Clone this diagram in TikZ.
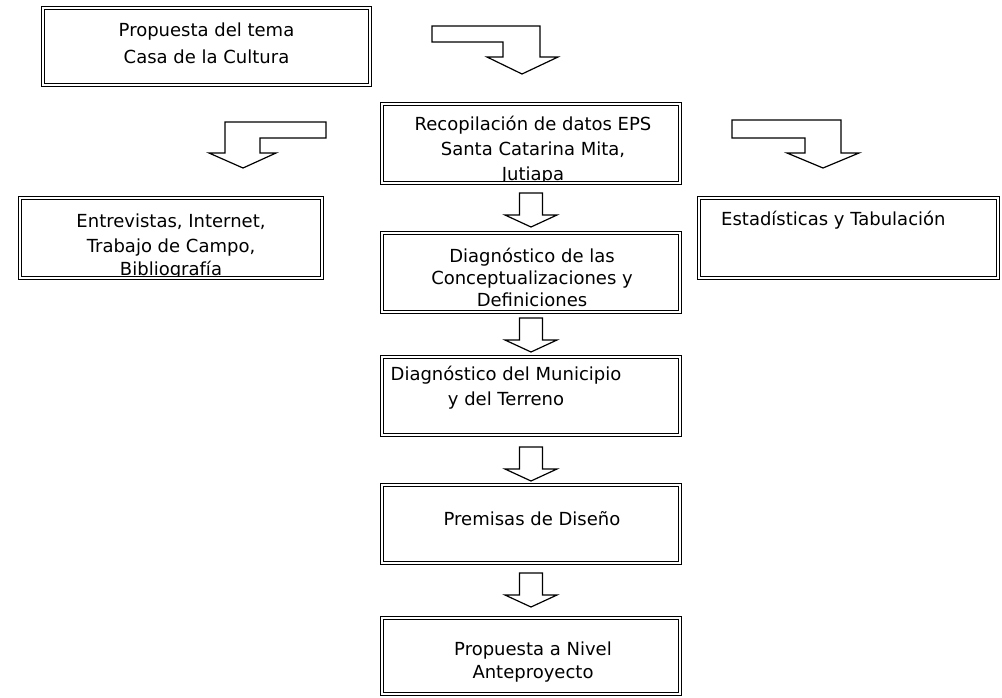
\documentclass[tikz,border=0pt]{standalone}
\usepackage{fontspec}
\setmainfont{DejaVu Sans}
\tikzset{
  box/.style={draw, double, double distance=1.5pt, line width=1.1pt},
  lbl/.style={font=\fontsize{18}{22}\selectfont, inner sep=0pt, anchor=base},
  barrow/.style={draw, line width=1.2pt, fill=white, line join=miter},
}
\newcommand\downarr[2]{%
  \draw[barrow] ({#1-11.5},{#2}) -- ({#1+11.5},{#2}) -- ({#1+11.5},{#2+22}) -- ({#1+26},{#2+22})
   -- ({#1},{#2+34}) -- ({#1-26},{#2+22}) -- ({#1-11.5},{#2+22}) -- cycle;}
\begin{document}
\begin{tikzpicture}[x=1pt, y=-1pt]
\useasboundingbox (0,0) rectangle (1002,697);
% texts
\node[lbl] (t1a) at (206.5,36) {Propuesta del tema};
\node[lbl] (t1b) at (206.5,63) {Casa de la Cultura};
\node[lbl] (t2a) at (533,130) {Recopilación de datos EPS};
\node[lbl] (t2b) at (533,155) {Santa Catarina Mita,};
\node[lbl] (t2c) at (533,180) {Jutiapa};
\node[lbl] (tla) at (171,227) {Entrevistas, Internet,};
\node[lbl] (tlb) at (171,252) {Trabajo de Campo,};
\node[lbl] (tlc) at (171,275) {Bibliografía};
\node[lbl, anchor=base west] (tr) at (721,225) {Estadísticas y Tabulación};
\node[lbl] (t3a) at (532,262) {Diagnóstico de las};
\node[lbl] (t3b) at (532,284) {Conceptualizaciones y};
\node[lbl] (t3c) at (532,306) {Definiciones};
\node[lbl] (t4a) at (506,380) {Diagnóstico del Municipio};
\node[lbl] (t4b) at (506,405) {y del Terreno};
\node[lbl] (t5) at (532,525) {Premisas de Diseño};
\node[lbl] (t6a) at (533,655) {Propuesta a Nivel};
\node[lbl] (t6b) at (533,678) {Anteproyecto};
% boxes
\draw[box] (43,8) rectangle (370,85);
\draw[box] (382,104) rectangle (680,183);
\draw[box] (20,198) rectangle (322,278);
\draw[box] (699,198) rectangle (998,278);
\draw[box] (382,233) rectangle (680,312);
\draw[box] (382,357) rectangle (680,435);
\draw[box] (382,485) rectangle (680,563);
\draw[box] (382,618) rectangle (680,694);
% bent arrows
\draw[barrow] (432,26) -- (540,26) -- (540,57) -- (558,57) -- (522,74) -- (487,57) -- (503,57) -- (503,42) -- (432,42) -- cycle;
\draw[barrow] (326,122) -- (225,122) -- (225,153) -- (209,153) -- (243,168) -- (276,153) -- (260,153) -- (260,138) -- (326,138) -- cycle;
\draw[barrow] (732,120) -- (841,120) -- (841,153) -- (859,153) -- (823,168) -- (787,153) -- (805,153) -- (805,138) -- (732,138) -- cycle;
% down arrows
\downarr{531}{193}
\downarr{531}{318}
\downarr{531}{447}
\downarr{531}{573}
\end{tikzpicture}
\end{document}
